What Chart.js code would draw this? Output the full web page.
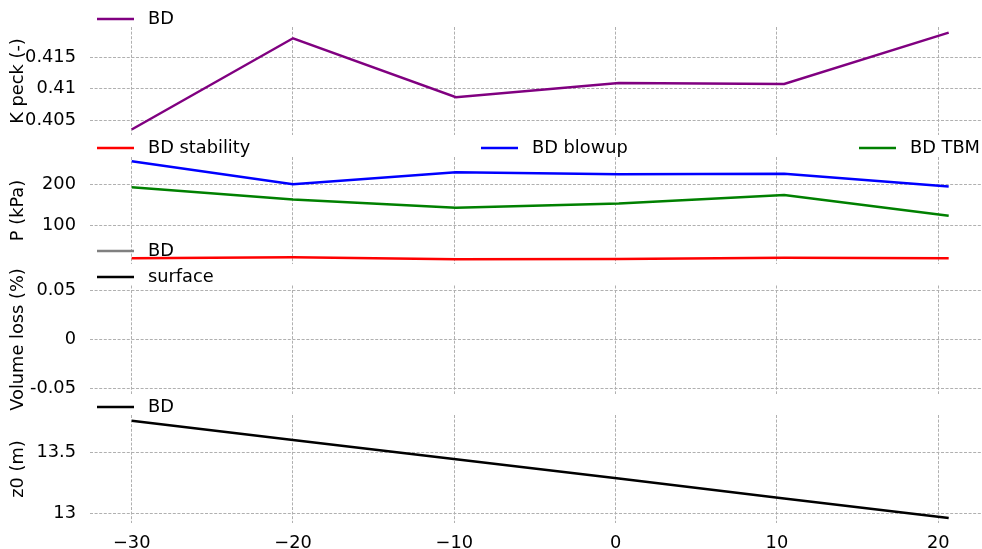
<!DOCTYPE html>
<html>
<head>
<meta charset="utf-8">
<script src="https://cdn.jsdelivr.net/npm/chart.js@4.4.0/dist/chart.umd.min.js"></script>
<style>
  body { margin: 0; background: #fff; }
  #wrap { position: relative; width: 982px; height: 549px; }
  canvas { position: absolute; left: 0; top: 0; }
</style>
</head>
<body>
<div id="wrap">
  <canvas id="c1" width="982" height="549"></canvas>
  <canvas id="c2" width="982" height="549"></canvas>
  <canvas id="c3" width="982" height="549"></canvas>
  <canvas id="c4" width="982" height="549"></canvas>
</div>
<script>
// shared x positions
var xValues = [-30, -20, -9.9, 0.2, 10.45, 20.65];
var xTicks = [-30, -20, -10, 0, 10, 20];

// K peck
var kPeck = [0.4035, 0.4180, 0.40863, 0.4109, 0.41074, 0.41889];
var kTicks = [0.405, 0.41, 0.415];

// pressures
var pStability = [21.2, 23.7, 18.8, 19.6, 22.7, 21.3];
var pBlowup = [255.6, 200, 229, 224.2, 225.6, 195];
var pTBM = [192.8, 163.4, 143.2, 153.9, 174, 124];
var pTicks = [100, 200];

// volume loss (no data plotted)
var vlTicks = [-0.05, 0, 0.05];

// z0
var z0 = [13.761, 13.604, 13.446, 13.289, 13.125, 12.965];
var zTicks = [13, 13.5];

var FS = 17.8;
Chart.defaults.font.family = "DejaVu Sans";
Chart.defaults.font.size = FS;
Chart.defaults.color = "#000";
Chart.defaults.animation = false;

function pts(ys) {
    return ys.map(function (y, i) { return { x: xValues[i], y: y }; });
}

function line(label, color, ys) {
    return {
        label: label,
        data: ys ? pts(ys) : [],
        borderColor: color,
        backgroundColor: color,
        borderWidth: 2.5,
        pointRadius: 0,
        tension: 0,
        fill: false
    };
}

// draws matplotlib-like legend entries at given spots
var lineLegend = {
    id: "lineLegend",
    afterDraw: function (chart, args, opts) {
        var ctx = chart.ctx;
        ctx.save();
        ctx.font = FS + "px 'DejaVu Sans'";
        ctx.textBaseline = "middle";
        chart.data.datasets.forEach(function (ds, i) {
            var x = opts.xs[i], y = opts.ys[i];
            ctx.strokeStyle = ds.borderColor;
            ctx.lineWidth = 2.5;
            ctx.beginPath();
            ctx.moveTo(x, y);
            ctx.lineTo(x + 37, y);
            ctx.stroke();
            ctx.fillStyle = "#000";
            ctx.fillText(ds.label, x + 51, y);
        });
        ctx.restore();
    }
};

function makeChart(id, datasets, o) {
    var grid = { color: "#b0b0b0", lineWidth: 1, drawTicks: false };
    var border = { display: false, dash: [3, 1.6] };
    return new Chart(id, {
        type: "line",
        data: { datasets: datasets },
        plugins: [lineLegend],
        options: {
            responsive: false,
            devicePixelRatio: 1,
            layout: { padding: { top: o.top, bottom: o.bottom, left: 0, right: 0 } },
            plugins: {
                legend: { display: false },
                tooltip: { enabled: false },
                lineLegend: { xs: o.lx, ys: o.ly }
            },
            scales: {
                x: {
                    type: "linear",
                    min: -32.585,
                    max: 22.715,
                    grid: grid,
                    border: border,
                    afterBuildTicks: function (s) {
                        s.ticks = xTicks.map(function (v) { return { value: v }; });
                    },
                    afterFit: function (s) { s.height = o.xh; },
                    ticks: {
                        display: o.xh > 0,
                        padding: 10,
                        callback: function (v) { return v < 0 ? "\u2212" + Math.abs(v) : String(v); }
                    }
                },
                y: {
                    min: o.min,
                    max: o.max,
                    grid: grid,
                    border: border,
                    afterBuildTicks: function (s) {
                        s.ticks = o.ticks.map(function (v) { return { value: v }; });
                    },
                    afterFit: function (s) { s.width = 90; },
                    ticks: {
                        padding: 14,
                        callback: function (v) { return String(Number(v.toFixed(4))); }
                    },
                    title: { display: true, text: o.title, padding: { top: 8, bottom: 0 } }
                }
            }
        }
    });
}

makeChart("c1", [line("BD", "#800080", kPeck)], {
    top: 27, bottom: 549 - 135, xh: 0,
    min: 0.40262, max: 0.41979, ticks: kTicks, title: "K peck (-)",
    lx: [97], ly: [19]
});

makeChart("c2", [
    line("BD stability", "#ff0000", pStability),
    line("BD blowup", "#0000ff", pBlowup),
    line("BD TBM", "#008000", pTBM)
], {
    top: 157, bottom: 549 - 264, xh: 0,
    min: 7.5, max: 266, ticks: pTicks, title: "P (kPa)",
    lx: [97, 481, 859], ly: [148, 148, 148]
});

makeChart("c3", [
    line("BD", "#808080", null),
    line("surface", "#000000", null)
], {
    top: 285.5, bottom: 549 - 393.5, xh: 0,
    min: -0.055, max: 0.055, ticks: vlTicks, title: "Volume loss (%)",
    lx: [97, 97], ly: [251, 277]
});

makeChart("c4", [line("BD", "#000000", z0)], {
    top: 415, bottom: 0, xh: 26,
    min: 12.925, max: 13.8075, ticks: zTicks, title: "z0 (m)",
    lx: [97], ly: [407]
});
</script>
</body>
</html>
